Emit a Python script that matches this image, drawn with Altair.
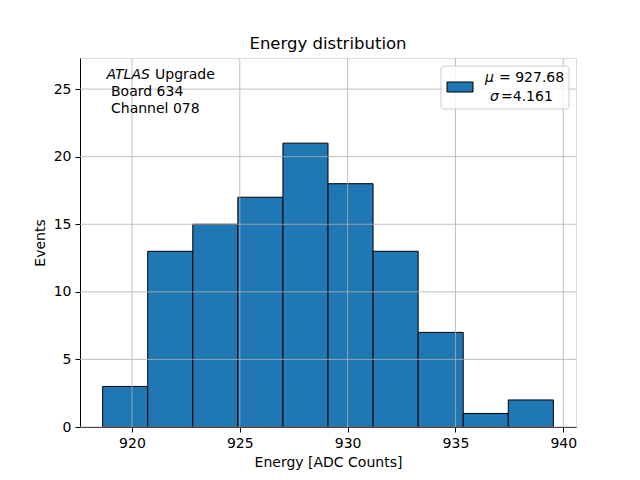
import altair as alt
import pandas as pd

# Histogram data
bin_edges = [918.64, 920.73, 922.82, 924.91, 927.00, 929.09, 931.18, 933.27, 935.36, 937.45, 939.54]
counts = [3, 13, 15, 17, 21, 18, 13, 7, 1, 2]
x_ticks = [920, 925, 930, 935, 940]
y_ticks = [0, 5, 10, 15, 20, 25]
x_domain = [917.59, 940.59]
y_domain = [0, 27.3]

title = "Energy distribution"
x_label = "Energy [ADC Counts]"
y_label = "Events"
legend_mu = "= 927.68"
legend_sigma = "=4.161"

FONT = "DejaVu Sans"
W, H = 496, 369

bars = pd.DataFrame({"x0": bin_edges[:-1], "x1": bin_edges[1:], "count": counts})
xg = pd.DataFrame({"v": x_ticks})
yg = pd.DataFrame({"v": y_ticks})
one = pd.DataFrame({"a": [0]})

xs = alt.Scale(domain=x_domain, nice=False, zero=False)
ys = alt.Scale(domain=y_domain, nice=False)

base_x_axis = alt.Axis(values=x_ticks, grid=False, title=x_label, labelFont=FONT, labelFontSize=14,
                       titleFont=FONT, titleFontSize=14, titleFontWeight="normal", titleColor="black",
                       labelColor="black", tickColor="black", domainColor="black", tickSize=5,
                       labelPadding=4, titlePadding=5, format="d")
base_y_axis = alt.Axis(values=y_ticks, grid=False, title=y_label, labelFont=FONT, labelFontSize=14,
                       titleFont=FONT, titleFontSize=14, titleFontWeight="normal", titleColor="black",
                       labelColor="black", tickColor="black", domainColor="black", tickSize=5,
                       labelPadding=4, titlePadding=6, format="d")

hist = alt.Chart(bars).mark_rect(color="#1f77b4", stroke="black", strokeWidth=1).encode(
    x=alt.X("x0:Q", scale=xs, axis=base_x_axis),
    x2="x1:Q",
    y=alt.Y("count:Q", scale=ys, axis=base_y_axis),
    y2=alt.datum(0),
)

vgrid = alt.Chart(xg).mark_rule(color="#b0b0b0", strokeWidth=0.8).encode(
    x=alt.X("v:Q", scale=xs), y=alt.value(0), y2=alt.value(H))
hgrid = alt.Chart(yg).mark_rule(color="#b0b0b0", strokeWidth=0.8).encode(
    y=alt.Y("v:Q", scale=ys), x=alt.value(0), x2=alt.value(W))

legend_box = alt.Chart(one).mark_rect(fill="white", fillOpacity=0.8, stroke="#cccccc", strokeWidth=1,
                                      cornerRadius=3).encode(
    x=alt.value(361), x2=alt.value(489), y=alt.value(8), y2=alt.value(51))
legend_patch = alt.Chart(one).mark_rect(fill="#1f77b4", stroke="black", strokeWidth=1).encode(
    x=alt.value(367), x2=alt.value(393), y=alt.value(24), y2=alt.value(34))

def txt(s, x, y, italic=False):
    return alt.Chart(one).mark_text(text=s, font=FONT, fontSize=14, align="left", baseline="middle",
                                    fontStyle="italic" if italic else "normal", color="black").encode(
        x=alt.value(x), y=alt.value(y))

texts = [
    txt("μ", 405, 19.5, True), txt(legend_mu, 419, 19.5),
    txt("σ", 410, 38.5, True), txt(legend_sigma, 421, 38.5),
    txt("ATLAS", 26.5, 16.5, True), txt("Upgrade", 75, 16.5),
    txt("Board 634", 31, 34), txt("Channel 078", 31, 50.5),
]

chart = alt.layer(hist, vgrid, hgrid, legend_box, legend_patch, *texts).properties(
    width=W, height=H,
    title=alt.TitleParams(title, font=FONT, fontSize=16.5, fontWeight="normal", color="black", offset=5),
    autosize=alt.AutoSizeParams(type="none"),
    padding={"left": 72, "top": 50, "right": 56, "bottom": 45},
).configure_view(stroke="black", strokeWidth=1).configure(background="white")

chart.save("out.html", embed_options={"renderer": "svg", "actions": False})
